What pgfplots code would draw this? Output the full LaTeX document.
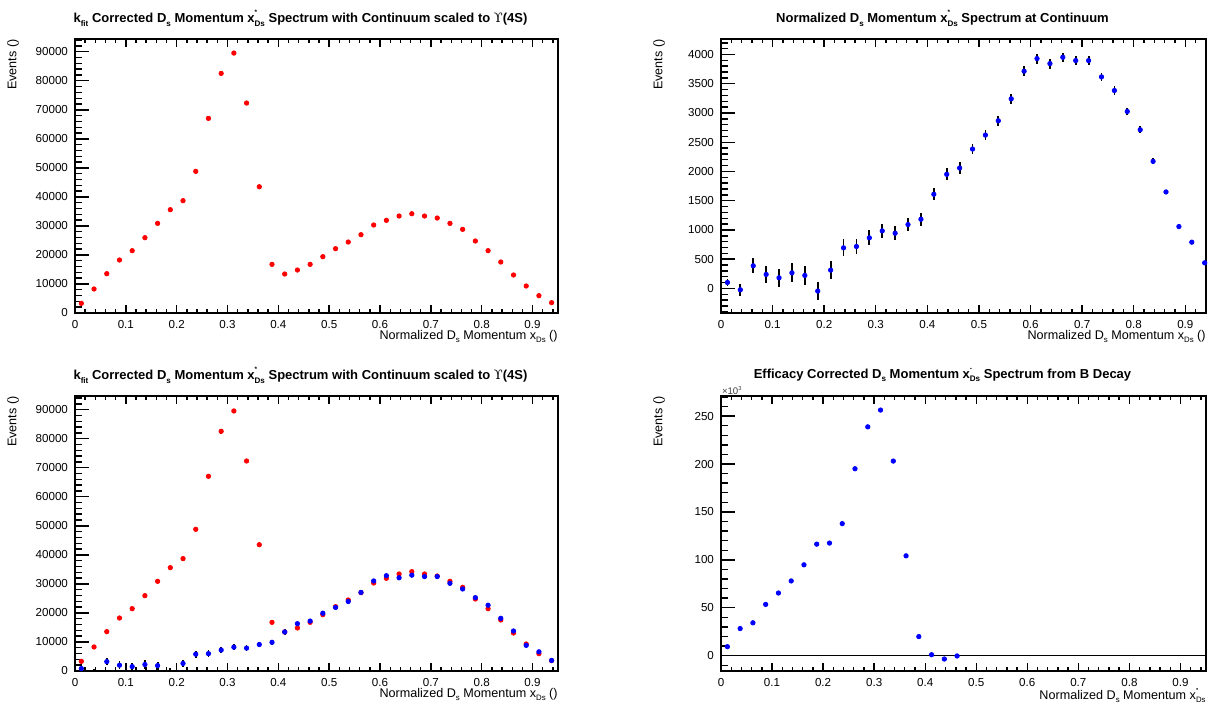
\documentclass[border=0pt]{standalone}
\usepackage{fontspec}
\setmainfont{Liberation Sans}
\newfontfamily\symfont{DejaVu Serif}
\usepackage{graphicx}
\usepackage{pgfplots}
\pgfplotsset{compat=1.18}
\usepackage{pgfplotstable}
\definecolor{rootred}{RGB}{255,0,0}
\definecolor{rootblue}{RGB}{0,0,255}
\newcommand{\sub}[1]{\raisebox{-0.45ex}{\scalebox{0.62}{#1}}}
\newcommand{\xds}[1]{x\makebox[0pt][l]{\raisebox{1.25ex}{\scalebox{0.5}{#1}}}\sub{Ds}}

\pgfplotstableread{
x y e
0.0125 3330 250
0.0375 8270 350
0.0625 13550 450
0.0875 18250 500
0.1125 21470 550
0.1375 25950 600
0.1625 30880 650
0.1875 35600 650
0.2125 38700 700
0.2375 48800 750
0.2625 67050 800
0.2875 82550 850
0.3125 89550 850
0.3375 72330 800
0.3625 43500 650
0.3875 16760 450
0.4125 13430 400
0.4375 14810 400
0.4625 16760 400
0.4875 19400 400
0.5125 22160 400
0.5375 24450 400
0.5625 26980 400
0.5875 30310 400
0.6125 31920 400
0.6375 33410 400
0.6625 34210 400
0.6875 33410 400
0.7125 32720 400
0.7375 30880 400
0.7625 28820 380
0.7875 24800 350
0.8125 21470 330
0.8375 17570 300
0.8625 13090 260
0.8875 9300 220
0.9125 5970 180
0.9375 3560 140
}\redtab

\pgfplotstableread{
x y e
0.0125 102 55
0.0375 -23 105
0.0625 387 125
0.0875 239 145
0.1125 182 155
0.1375 267 160
0.1625 222 160
0.1875 -45 155
0.2125 313 150
0.2375 694 145
0.2625 717 135
0.2875 865 130
0.3125 984 125
0.3375 944 120
0.3625 1092 115
0.3875 1183 110
0.4125 1610 105
0.4375 1951 100
0.4625 2059 95
0.4875 2383 90
0.5125 2622 85
0.5375 2867 85
0.5625 3242 85
0.5875 3714 85
0.6125 3930 85
0.6375 3845 85
0.6625 3953 80
0.6875 3896 80
0.7125 3896 80
0.7375 3617 75
0.7625 3384 70
0.7875 3026 65
0.8125 2713 60
0.8375 2173 50
0.8625 1650 40
0.8875 1058 30
0.9125 791 25
0.9375 438 20
}\conttab

\pgfplotstableread{
x y e
0.0125 852 460
0.0375 -192 877
0.0625 3231 1150
0.0875 1996 1300
0.1125 1520 1380
0.1375 2229 1400
0.1625 1854 1400
0.1875 -376 1350
0.2125 2614 1300
0.2375 5795 1250
0.2625 5987 1180
0.2875 7223 1130
0.3125 8216 1090
0.3375 7882 1050
0.3625 9118 1000
0.3875 9878 960
0.4125 13444 900
0.4375 16291 860
0.4625 17193 820
0.4875 19898 780
0.5125 21894 740
0.5375 23939 740
0.5625 27071 740
0.5875 31012 740
0.6125 32816 740
0.6375 32106 740
0.6625 33008 700
0.6875 32532 700
0.7125 32532 700
0.7375 30202 650
0.7625 28256 600
0.7875 25267 560
0.8125 22654 520
0.8375 18145 430
0.8625 13778 350
0.8875 8834 260
0.9125 6605 210
0.9375 3657 170
}\scaledtab

\pgfplotstableread{
x y
0.0125 9.4
0.0375 28.3
0.0625 34.3
0.0875 53.5
0.1125 65.4
0.1375 78.0
0.1625 94.8
0.1875 116.4
0.2125 117.5
0.2375 137.8
0.2625 195.1
0.2875 238.8
0.3125 256.3
0.3375 203.1
0.3625 104.2
0.3875 19.9
0.4125 1.0
0.4375 -3.5
0.4625 -0.3
}\efftab

\pgfplotsset{
  rootax/.style={
    scale only axis, width=241.5pt, height=137pt,
    anchor=south west,
    axis line style={line width=1.1pt},
    tick style={line width=0.7pt, black},
    tick align=inside,
    xtick pos=both, ytick pos=left,
    xtick style={/pgfplots/major tick length=4pt, /pgfplots/minor tick length=2pt},
    ytick style={/pgfplots/major tick length=7pt, /pgfplots/minor tick length=3.5pt},
    xmin=0, xmax=0.95,
    xtick={0,0.1,0.2,0.3,0.4,0.5,0.6,0.7,0.8,0.9},
    minor xtick={0.02,0.04,0.06,0.08,0.12,0.14,0.16,0.18,0.22,0.24,0.26,0.28,0.32,0.34,0.36,0.38,0.42,0.44,0.46,0.48,0.52,0.54,0.56,0.58,0.62,0.64,0.66,0.68,0.72,0.74,0.76,0.78,0.82,0.84,0.86,0.88,0.92,0.94},
    scaled x ticks=false, scaled y ticks=false,
    /pgf/number format/assume math mode=true,
    xticklabel style={/pgf/number format/fixed, /pgf/number format/precision=1},
    yticklabel style={/pgf/number format/fixed, /pgf/number format/1000 sep={}},
    tick label style={font=\fontsize{5.8}{6}\selectfont},
    every axis x label/.style={at={(rel axis cs:1,0)}, anchor=north east, yshift=-8.5pt, inner sep=0pt, font=\fontsize{6.3}{7}\selectfont},
    every axis y label/.style={at={(rel axis cs:0,1)}, xshift=-31pt, rotate=90, anchor=east, inner sep=0pt, font=\fontsize{6.3}{7}\selectfont},
    every axis title/.style={at={(rel axis cs:0.5,1)}, anchor=center, yshift=10.5pt, font=\bfseries\fontsize{6.5}{7}\selectfont},
    ylabel={Events ()},
    clip=true,
  },
  redm/.style={only marks, mark=*, mark size=1.1pt, mark options={draw=rootred, fill=rootred}},
  bluem/.style={only marks, mark=*, mark size=1.1pt, mark options={draw=rootblue, fill=rootblue}},
  errs/.style={error bars/.cd, y dir=both, y explicit, error mark=none, error bar style={black, line width=0.9pt}},
}

\begin{document}
\begin{tikzpicture}
\path[use as bounding box] (0,0) rectangle (605.5pt,351.5pt);

% Panel 1
\begin{axis}[rootax, at={(37.5pt,195pt)},
  ymin=0, ymax=94400,
  ytick={0,10000,20000,30000,40000,50000,60000,70000,80000,90000},
  minor ytick={0,2000,...,94000},
  title style={xshift=-8pt},
  title={k\sub{fit} Corrected D\sub{s} Momentum \xds{*} Spectrum with Continuum scaled to {\symfont\mdseries ϒ}(4S)},
  xlabel={Normalized D\sub{s} Momentum x\sub{Ds} ()}]
\addplot[redm] table[x=x,y=y] {\redtab};
\end{axis}

% Panel 2
\begin{axis}[rootax, at={(360.5pt,195pt)}, width=242.5pt,
  xmax=0.94,
  ymin=-420, ymax=4265,
  ytick={0,500,1000,1500,2000,2500,3000,3500,4000},
  minor ytick={-400,-300,...,4200},
  title style={xshift=-10.5pt},
  title={Normalized D\sub{s} Momentum \xds{*} Spectrum at Continuum},
  xlabel={Normalized D\sub{s} Momentum x\sub{Ds} ()}]
\addplot[bluem, errs] table[x=x,y=y,y error=e] {\conttab};
\end{axis}

% Panel 3
\begin{axis}[rootax, at={(37.5pt,16pt)}, height=137.5pt,
  ymin=0, ymax=94700,
  ytick={0,10000,20000,30000,40000,50000,60000,70000,80000,90000},
  minor ytick={0,2000,...,94000},
  title style={xshift=-8pt},
  title={k\sub{fit} Corrected D\sub{s} Momentum \xds{*} Spectrum with Continuum scaled to {\symfont\mdseries ϒ}(4S)},
  xlabel={Normalized D\sub{s} Momentum x\sub{Ds} ()}]
\addplot[redm, errs] table[x=x,y=y,y error=e] {\redtab};
\addplot[bluem, errs] table[x=x,y=y,y error=e] {\scaledtab};
\end{axis}

% Panel 4
\begin{axis}[rootax, at={(360.5pt,16pt)}, width=242.5pt, height=137.5pt,
  ymin=-16, ymax=271,
  ytick={0,50,100,150,200,250},
  minor ytick={-10,0,...,270},
  title style={xshift=-10.5pt},
  title={Efficacy Corrected D\sub{s} Momentum \xds{-} Spectrum from B Decay},
  xlabel={Normalized D\sub{s} Momentum \xds{\textbullet}},
  after end axis/.code={
    \node[anchor=south west, inner sep=0.3pt, font=\fontsize{4.8}{5}\selectfont, text=black!75] at (rel axis cs:0,1) {×10\raisebox{0.8ex}{\scalebox{0.6}{3}}};
  }]
\addplot[black, line width=0.5pt, forget plot] coordinates {(0,0) (0.95,0)};
\addplot[bluem] table[x=x,y=y] {\efftab};
\end{axis}
\end{tikzpicture}
\end{document}
